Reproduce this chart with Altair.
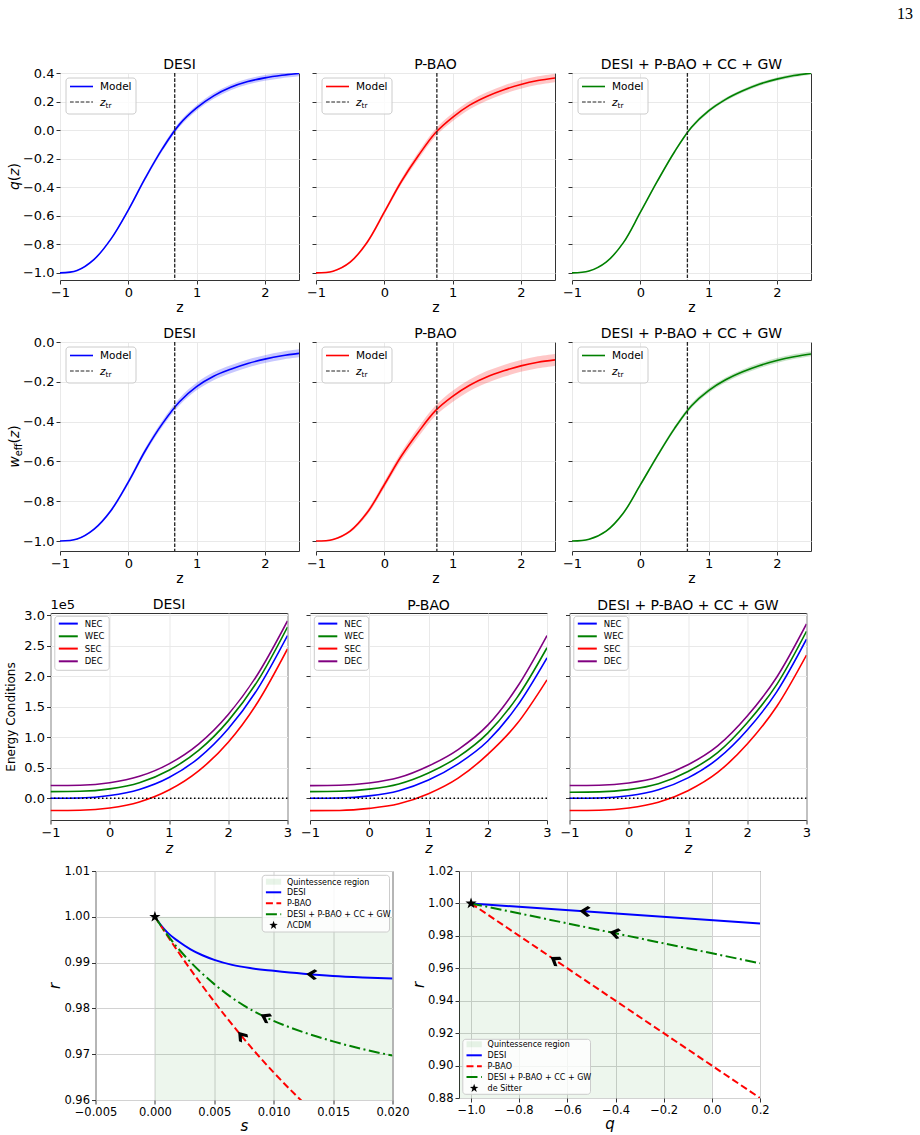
import math
import numpy as np
import pandas as pd
import altair as alt

FONT = "DejaVu Sans"
INK = "#333333"
GRID_LIGHT = "#e9e9e9"
GRID_DARK = "#d2d2d2"
BLUE, RED, GREEN, PURPLE = "#0000ff", "#ff0000", "#008000", "#800080"

# ---------------------------------------------------------------- data
TITLES = ["DESI", "P-BAO", "DESI + P-BAO + CC + GW"]
COLORS = [BLUE, RED, GREEN]

# reconstructed q(z) and w_eff(z) with 1-sigma half widths
Z_GRID = [-1.0, -0.75, -0.5, -0.25, 0.0, 0.25, 0.5, 0.75, 1.0, 1.25, 1.5, 1.75, 2.0, 2.25, 2.5]

Q_DESI = [-1.000, -0.983, -0.905, -0.760, -0.560, -0.335, -0.130, 0.040, 0.155, 0.240, 0.300, 0.340, 0.366, 0.384, 0.397]
Q_PBAO = [-1.000, -0.988, -0.925, -0.785, -0.575, -0.360, -0.178, -0.018, 0.090, 0.175, 0.236, 0.283, 0.320, 0.347, 0.365]
Q_COMB = [-1.000, -0.987, -0.925, -0.790, -0.577, -0.358, -0.153, 0.020, 0.134, 0.215, 0.275, 0.323, 0.357, 0.382, 0.399]

W_DESI = [-1.000, -0.990, -0.940, -0.845, -0.704, -0.545, -0.410, -0.300, -0.224, -0.172, -0.137, -0.108, -0.086, -0.069, -0.057]
W_PBAO = [-1.000, -0.992, -0.950, -0.857, -0.717, -0.573, -0.452, -0.345, -0.273, -0.217, -0.176, -0.145, -0.120, -0.102, -0.090]
W_COMB = [-1.000, -0.991, -0.950, -0.860, -0.718, -0.572, -0.435, -0.320, -0.244, -0.190, -0.150, -0.118, -0.093, -0.074, -0.060]

ERR_DESI = [0.0, 0.002, 0.005, 0.008, 0.011, 0.014, 0.016, 0.018, 0.019, 0.020, 0.020, 0.020, 0.020, 0.020, 0.020]
ERR_PBAO = [0.0, 0.003, 0.007, 0.012, 0.016, 0.020, 0.024, 0.026, 0.028, 0.029, 0.030, 0.030, 0.030, 0.030, 0.030]
ERR_COMB = [0.0, 0.001, 0.003, 0.005, 0.007, 0.009, 0.010, 0.011, 0.012, 0.012, 0.012, 0.012, 0.012, 0.012, 0.012]

Z_TR = [0.68, 0.77, 0.69]

Q_SERIES = [Q_DESI, Q_PBAO, Q_COMB]
W_SERIES = [W_DESI, W_PBAO, W_COMB]
ERR_SERIES = [ERR_DESI, ERR_PBAO, ERR_COMB]

Z_TICKS = [-1, 0, 1, 2]
Q_DOMAIN = [-1.05, 0.4]
Q_TICKS = [-1.0, -0.8, -0.6, -0.4, -0.2, 0.0, 0.2, 0.4]
W_DOMAIN = [-1.05, 0.0]
W_TICKS = [-1.0, -0.8, -0.6, -0.4, -0.2, 0.0]

# energy conditions, in units of 1e5
EC_UNIT = 1e5
Z_EC = [-1.0, -0.5, 0.0, 0.5, 1.0, 1.5, 2.0, 2.5, 3.0]
NEC_DESI = [0.000, 0.005, 0.045, 0.145, 0.340, 0.660, 1.140, 1.800, 2.670]
WEC_DESI = [0.110, 0.115, 0.155, 0.255, 0.460, 0.785, 1.270, 1.930, 2.810]
SEC_DESI = [-0.200, -0.195, -0.158, -0.060, 0.135, 0.450, 0.920, 1.580, 2.450]
DEC_DESI = [0.210, 0.215, 0.255, 0.360, 0.565, 0.890, 1.375, 2.040, 2.910]
NEC_PBAO = [0.000, 0.005, 0.040, 0.125, 0.300, 0.565, 0.940, 1.520, 2.305]
WEC_PBAO = [0.110, 0.115, 0.150, 0.235, 0.415, 0.680, 1.070, 1.660, 2.470]
SEC_PBAO = [-0.203, -0.199, -0.165, -0.090, 0.075, 0.330, 0.720, 1.230, 1.944]
DEC_PBAO = [0.208, 0.213, 0.250, 0.340, 0.530, 0.800, 1.200, 1.830, 2.670]
NEC_COMB = [0.000, 0.005, 0.042, 0.140, 0.335, 0.645, 1.120, 1.750, 2.610]
WEC_COMB = [0.100, 0.105, 0.143, 0.240, 0.440, 0.750, 1.240, 1.870, 2.740]
SEC_COMB = [-0.200, -0.195, -0.160, -0.066, 0.125, 0.425, 0.890, 1.510, 2.350]
DEC_COMB = [0.210, 0.215, 0.252, 0.350, 0.550, 0.860, 1.350, 1.990, 2.860]
EC_NAMES = ["NEC", "WEC", "SEC", "DEC"]
EC_COLORS = [BLUE, GREEN, RED, PURPLE]
EC_SERIES = [
    [NEC_DESI, WEC_DESI, SEC_DESI, DEC_DESI],
    [NEC_PBAO, WEC_PBAO, SEC_PBAO, DEC_PBAO],
    [NEC_COMB, WEC_COMB, SEC_COMB, DEC_COMB],
]
EC_LIMITS = [-0.356, 3.04]
EC_TICKS = [0.0, 0.5, 1.0, 1.5, 2.0, 2.5, 3.0]
EC_ZTICKS = [-1, 0, 1, 2, 3]

# statefinder trajectories {s, r} and {q, r}
S_DESI = [0.0, 0.0005, 0.001, 0.002, 0.003, 0.004, 0.005, 0.0065, 0.008, 0.010, 0.0125, 0.015, 0.0175, 0.020]
R_DESI_S = [1.0, 0.9982, 0.9967, 0.9946, 0.9929, 0.9916, 0.9906, 0.9895, 0.9888, 0.9882, 0.98755, 0.98705, 0.98675, 0.98655]
S_PBAO = [0.0, 0.002, 0.004, 0.006, 0.008, 0.010, 0.012, 0.013]
R_PBAO_S = [1.0, 0.9922, 0.9849, 0.9781, 0.9718, 0.9660, 0.9607, 0.9582]
S_COMB = [0.0, 0.001, 0.0025, 0.005, 0.0075, 0.0093, 0.0125, 0.015, 0.0175, 0.020]
R_COMB_S = [1.0, 0.9962, 0.9915, 0.9853, 0.9806, 0.9781, 0.9748, 0.9728, 0.9711, 0.9697]

Q_LINE = [-1.0, 0.2]
R_DESI_Q = [1.0, 0.9876]
R_PBAO_Q = [1.0, 0.880]
R_COMB_Q = [1.0, 0.9631]

LCDM_POINT = [0.0, 1.0]
DE_SITTER_POINT = [-1.0, 1.0]
QUINT_S = [0.0, 0.02]
QUINT_RS = [0.96, 1.0]
QUINT_Q = [-1.05, 0.0]
QUINT_RQ = [0.88, 1.0]
ARROW_S = [0.0132, 0.0073, 0.0093]
ARROW_Q = [-0.527, -0.651, -0.403]

S_DOMAIN, RS_DOMAIN = [-0.005, 0.020], [0.96, 1.01]
S_TICKS = [-0.005, 0.0, 0.005, 0.010, 0.015, 0.020]
RS_TICKS = [0.96, 0.97, 0.98, 0.99, 1.00, 1.01]
QQ_DOMAIN, RQ_DOMAIN = [-1.05, 0.2], [0.88, 1.02]
QQ_TICKS = [-1.0, -0.8, -0.6, -0.4, -0.2, 0.0, 0.2]
RQ_TICKS = [0.88, 0.90, 0.92, 0.94, 0.96, 0.98, 1.00, 1.02]

# ---------------------------------------------------------------- sizes
W12, H1, H2 = 239, 207, 209
W3, H3 = 237, 207
W4A, H4A = 297, 229
W4B, H4B = 301, 227

ONE = pd.DataFrame({"k": [0]})

# DejaVu Sans advance widths (em) for composed labels
EM = {"q": 0.635, "w": 0.818, "z": 0.525, "(": 0.390, ")": 0.390,
      "e": 0.615, "f": 0.352, "t": 0.392, "r": 0.411}


def star_path(inner=0.40):
    pts = []
    for k in range(10):
        rad = 1.0 if k % 2 == 0 else inner
        a = math.radians(-90 + 36 * k)
        pts.append(f"{rad * math.cos(a):.3f},{rad * math.sin(a):.3f}")
    return "M" + "L".join(pts) + "Z"


STAR = star_path()
ARROW = "M-1,0L0.45,-1L1,-0.72L0.05,0L1,0.72L0.45,1Z"


def txt(text, x, y, size, style="normal", align="left", angle=0, font=FONT):
    kw = dict(text=text, font=font, fontSize=size, fontStyle=style,
              align=align, baseline="alphabetic", color="black")
    if angle:
        kw["angle"] = angle
    return alt.Chart(ONE).mark_text(**kw).encode(x=alt.value(x), y=alt.value(y))


def rich(pieces, x, y, vertical=False, center=True):
    widths = [sum(EM[c] for c in t) * s for t, s, _, _ in pieces]
    pos = -sum(widths) / 2 if center else 0.0
    out = []
    for (t, s, style, shift), w in zip(pieces, widths):
        if vertical:
            out.append(txt(t, x + shift, y - pos, s, style, angle=270))
        else:
            out.append(txt(t, x + pos, y + shift, s, style))
        pos += w
    return out


def hseg(x1, x2, y, color, width, dash=None):
    kw = dict(color=color, strokeWidth=width)
    if dash:
        kw["strokeDash"] = dash
    return alt.Chart(ONE).mark_rule(**kw).encode(
        x=alt.value(x1), x2=alt.value(x2), y=alt.value(y))


def box(x1, y1, x2, y2):
    return alt.Chart(ONE).mark_rect(
        fill="white", fillOpacity=0.8, stroke="#cccccc", strokeWidth=1, cornerRadius=3
    ).encode(x=alt.value(x1), x2=alt.value(x2), y=alt.value(y1), y2=alt.value(y2))


def patch(x1, y1, x2, y2):
    return alt.Chart(ONE).mark_rect(fill=GREEN, fillOpacity=0.09).encode(
        x=alt.value(x1), x2=alt.value(x2), y=alt.value(y1), y2=alt.value(y2))


def symbol(x, y, shape, size):
    return alt.Chart(ONE).mark_point(shape=shape, size=size, filled=True, color="black", opacity=1).encode(
        x=alt.value(x), y=alt.value(y))


Q_LABEL = [("q", 14, "italic", 0), ("(", 14, "normal", 0), ("z", 14, "italic", 0), (")", 14, "normal", 0)]
W_LABEL = [("w", 14, "italic", 0), ("eff", 9.8, "normal", 3.0), ("(", 14, "normal", 0),
           ("z", 14, "italic", 0), (")", 14, "normal", 0)]
ZTR_LABEL = [("z", 10.5, "italic", 0), ("tr", 7.4, "normal", 2.5)]


def panel_title(i, lift=0.0):
    # the first panel of a row carries tick labels that reach above the frame
    return alt.TitleParams(TITLES[i], fontSize=14, offset=(-5 - lift if i == 0 else 0))


# ---------------------------------------------------------------- rows 1-2
def evo_panel(i, row):
    if row == 1:
        vals, dom, ticks, H = Q_SERIES[i], Q_DOMAIN, Q_TICKS, H1
    else:
        vals, dom, ticks, H = W_SERIES[i], W_DOMAIN, W_TICKS, H2
    color = COLORS[i]
    v = np.array(vals)
    e = np.array(ERR_SERIES[i])
    df = pd.DataFrame({"z": Z_GRID, "v": v, "lo": v - e, "hi": v + e})
    xs = alt.Scale(domain=[-1.0, 2.5], nice=False, zero=False)
    ys = alt.Scale(domain=dom, nice=False, zero=False)
    xax = alt.Axis(values=Z_TICKS, format="d", title="z", titleFontSize=14, titlePadding=1,
                   gridColor=GRID_LIGHT)
    yax = alt.Axis(values=ticks, format=".1f", labels=(i == 0), title=None, gridColor=GRID_LIGHT)
    band = alt.Chart(df).mark_area(color=color, opacity=0.22, interpolate="catmull-rom", clip=True).encode(
        x=alt.X("z:Q", scale=xs, axis=xax), y=alt.Y("lo:Q", scale=ys, axis=yax), y2="hi:Q")
    line = alt.Chart(df).mark_line(color=color, strokeWidth=1.6, interpolate="catmull-rom", clip=True).encode(
        x=alt.X("z:Q", scale=xs, axis=xax), y=alt.Y("v:Q", scale=ys, axis=yax))
    ztr = alt.Chart(pd.DataFrame({"zt": [Z_TR[i]]})).mark_rule(
        color="#222222", strokeWidth=1.3, strokeDash=[3.7, 1.6]
    ).encode(x=alt.X("zt:Q", scale=xs, axis=xax))
    layers = [band, line, ztr,
              box(6, 5, 76, 41),
              hseg(10, 33, 13.5, color, 1.6),
              txt("Model", 40, 17.3, 10.5),
              hseg(10, 33, 29, "#222222", 1.0, [3.7, 1.6])]
    layers += rich(ZTR_LABEL, 40, 32.8, center=False)
    if i == 0:
        layers += rich(Q_LABEL if row == 1 else W_LABEL, -41, H / 2, vertical=True)
    return alt.layer(*layers).properties(width=W12, height=H, title=panel_title(i))


# ---------------------------------------------------------------- row 3
def ec_panel(i):
    xs = alt.Scale(domain=[-1.0, 3.0], nice=False, zero=False)
    ys = alt.Scale(domain=[EC_LIMITS[0] * EC_UNIT, EC_LIMITS[1] * EC_UNIT], nice=False, zero=False)
    xax = alt.Axis(values=EC_ZTICKS, format="d", title="z", titleFontStyle="italic", titleFontSize=14,
                   titlePadding=2, gridColor=GRID_LIGHT)
    yax = alt.Axis(values=[t * EC_UNIT for t in EC_TICKS],
                   labelExpr="format(datum.value / 100000, '.1f')", labels=(i == 0),
                   title=("Energy Conditions" if i == 0 else None), titleFontSize=12, titlePadding=6,
                   gridColor=GRID_LIGHT)
    layers = []
    for color, vals in zip(EC_COLORS, EC_SERIES[i]):
        df = pd.DataFrame({"z": Z_EC, "v": np.array(vals) * EC_UNIT})
        layers.append(alt.Chart(df).mark_line(color=color, strokeWidth=1.6, interpolate="monotone", clip=True).encode(
            x=alt.X("z:Q", scale=xs, axis=xax), y=alt.Y("v:Q", scale=ys, axis=yax)))
    layers.append(alt.Chart(pd.DataFrame({"v": [0.0]})).mark_rule(
        color="black", strokeWidth=1.5, strokeDash=[1.5, 2.5]
    ).encode(y=alt.Y("v:Q", scale=ys, axis=yax)))
    layers.append(box(4.3, 3.3, 58.7, 57.3))
    for name, color, yy in zip(EC_NAMES, EC_COLORS, [10.6, 23.3, 35.6, 48.3]):
        layers.append(hseg(8.3, 27.3, yy, color, 2.0))
        layers.append(txt(name, 34.3, yy + 3.0, 8.5))
    lift = 0.0
    if i == 0:
        # axis offset text of the scaled energy axis
        layers.append(txt("1e5", 0, -4, 13))
        lift = 8.0
    return alt.layer(*layers).properties(width=W3, height=H3, title=panel_title(i, lift))


# ---------------------------------------------------------------- row 4
def arrow_table(curves, xpos, xdom, ydom, W, H, h):
    kx = W / (xdom[1] - xdom[0])
    ky = H / (ydom[1] - ydom[0])
    rows = []
    for (xa, ya), x0 in zip(curves, xpos):
        y0 = float(np.interp(x0, xa, ya))
        y1 = float(np.interp(x0 - h, xa, ya))
        dx = -h * kx
        dy = -(y1 - y0) * ky
        ang = (math.degrees(math.atan2(dy, dx)) - 180.0) % 360.0
        rows.append({"x": x0, "y": y0, "ang": ang})
    return pd.DataFrame(rows)


DASH_PBAO = [7, 3.5]
DASH_COMB = [11, 3.5, 2, 3.5]


def plane_panel(kind):
    if kind == "s":
        W, H = W4A, H4A
        xdom, ydom, xt, yt, xf = S_DOMAIN, RS_DOMAIN, S_TICKS, RS_TICKS, ".3f"
        curves = [(S_DESI, R_DESI_S), (S_PBAO, R_PBAO_S), (S_COMB, R_COMB_S)]
        region = (QUINT_S, QUINT_RS)
        point, arrows, h = LCDM_POINT, ARROW_S, 0.0005
        xtitle, point_name = "s", "ΛCDM"
    else:
        W, H = W4B, H4B
        xdom, ydom, xt, yt, xf = QQ_DOMAIN, RQ_DOMAIN, QQ_TICKS, RQ_TICKS, ".1f"
        curves = [(Q_LINE, R_DESI_Q), (Q_LINE, R_PBAO_Q), (Q_LINE, R_COMB_Q)]
        region = (QUINT_Q, QUINT_RQ)
        point, arrows, h = DE_SITTER_POINT, ARROW_Q, 0.05
        xtitle, point_name = "q", "de Sitter"
    xs = alt.Scale(domain=xdom, nice=False, zero=False)
    ys = alt.Scale(domain=ydom, nice=False, zero=False)
    xax = alt.Axis(values=xt, format=xf, title=xtitle, titleFontStyle="italic", titleFontSize=15,
                   titlePadding=1, labelFontSize=11.5, gridColor=GRID_DARK)
    yax = alt.Axis(values=yt, format=".2f", title="r", titleFontStyle="italic", titleFontSize=15,
                   titlePadding=1, labelFontSize=11.5, gridColor=GRID_DARK)

    def XY(xf_, yf_):
        return dict(x=alt.X(xf_, scale=xs, axis=xax), y=alt.Y(yf_, scale=ys, axis=yax))

    reg = pd.DataFrame({"x1": [region[0][0]], "x2": [region[0][1]], "y1": [region[1][0]], "y2": [region[1][1]]})
    layers = [alt.Chart(reg).mark_rect(color=GREEN, opacity=0.07, clip=True).encode(
        **XY("x1:Q", "y1:Q"), x2="x2:Q", y2="y2:Q")]
    styles = [(BLUE, None), (RED, DASH_PBAO), (GREEN, DASH_COMB)]
    for (xa, ya), (color, dash) in zip(curves, styles):
        kw = dict(color=color, strokeWidth=2, interpolate="monotone", clip=True)
        if dash:
            kw["strokeDash"] = dash
        df = pd.DataFrame({"x": xa, "y": ya})
        layers.append(alt.Chart(df).mark_line(**kw).encode(**XY("x:Q", "y:Q")))
    layers.append(alt.Chart(pd.DataFrame({"x": [point[0]], "y": [point[1]]})).mark_point(
        shape=STAR, size=140, filled=True, color="black", opacity=1).encode(**XY("x:Q", "y:Q")))
    arr = arrow_table(curves, arrows, xdom, ydom, W, H, h)
    layers.append(alt.Chart(arr).mark_point(shape=ARROW, size=120, filled=True, color="black", opacity=1).encode(
        **XY("x:Q", "y:Q"), angle=alt.Angle("ang:Q", scale=None)))

    if kind == "s":
        bx, by, bw, bh, ys_ = 166.7, 4.3, 127.3, 56.7, [10.7, 21.3, 32.3, 43.3, 54.3]
    else:
        bx, by, bw, bh, ys_ = 3.8, 168.3, 127.7, 55.0, [173.3, 184.3, 195.3, 206.0, 217.3]
    sx1, sx2, tx = bx + 3.7, bx + 19.0, bx + 24.8
    labels = ["Quintessence region", "DESI", "P-BAO", "DESI + P-BAO + CC + GW", point_name]
    layers.append(box(bx, by, bx + bw, by + bh))
    layers.append(patch(sx1, ys_[0] - 3, sx2, ys_[0] + 3))
    for (color, dash), yy in zip(styles, ys_[1:4]):
        layers.append(hseg(sx1, sx2, yy, color, 2.0, dash))
    layers.append(symbol((sx1 + sx2) / 2, ys_[4], STAR, 80))
    for lab, yy in zip(labels, ys_):
        layers.append(txt(lab, tx, yy + 2.8, 8))
    return alt.layer(*layers).properties(width=W, height=H)


# ---------------------------------------------------------------- layout
# Each row starts with an invisible frame cell: its box fixes how far the row
# reaches left, above and below, so that rows stack at exact offsets.
FRAME_LEFT = 24


def frame_cell(width, above, below, extra=()):
    rect = alt.Chart(ONE).mark_rect(opacity=0).encode(
        x=alt.value(-FRAME_LEFT), x2=alt.value(width), y=alt.value(-above), y2=alt.value(below))
    return alt.layer(rect, *extra).properties(
        width=width, height=10, view=alt.ViewBackground(strokeOpacity=0))


page_number = txt("13", 880, -54.5, 16, align="center", font="Liberation Serif")

row1 = alt.hconcat(frame_cell(18, 71.7, 245, [page_number]), *[evo_panel(i, 1) for i in range(3)],
                   spacing=17, bounds="flush")
row2 = alt.hconcat(frame_cell(18, 24, 247), *[evo_panel(i, 2) for i in range(3)],
                   spacing=17, bounds="flush")
row3 = alt.hconcat(frame_cell(2.5, 24, 247.3), *[ec_panel(i) for i in range(3)],
                   spacing=22.5, bounds="flush")
row4 = alt.hconcat(frame_cell(3.5, 10, 262), plane_panel("s"), plane_panel("q"),
                   spacing=66.5, bounds="flush")

chart = alt.vconcat(row1, row2, row3, row4, spacing=0).properties(
    padding={"left": 1, "top": 1, "right": 1, "bottom": 1}
).configure(font=FONT).configure_axis(
    labelFont=FONT, titleFont=FONT, labelColor="black", titleColor="black",
    tickColor=INK, tickSize=4, tickWidth=1, domain=False, labelFontSize=13,
    titleFontWeight="normal", gridWidth=1, labelPadding=2, labelFlush=False, labelOverlap=False
).configure_view(stroke=INK, strokeWidth=1).configure_title(
    font=FONT, fontWeight="normal", color="black", fontSize=14
)

chart.save("out.html", embed_options={"renderer": "svg", "actions": False})
